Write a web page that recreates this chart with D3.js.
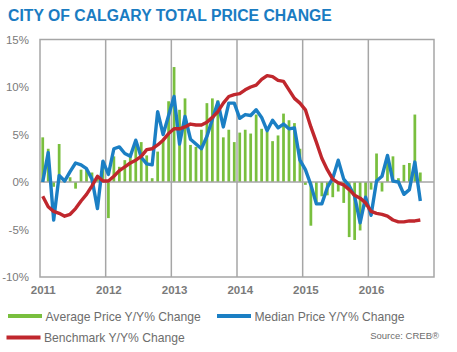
<!DOCTYPE html>
<html>
<head>
<meta charset="utf-8">
<script src="https://cdn.jsdelivr.net/npm/d3@7"></script>
<style>
  body { margin: 0; background: #fff; }
  svg { display: block; font-family: "Liberation Sans", Arial, sans-serif; }
</style>
</head>
<body>
<div id="graphicContainer"></div>
<script>
// chart data, one value per month Jan 2011 .. Oct 2016
var years = [2011, 2012, 2013, 2014, 2015, 2016]
var yTicks = [-10, -5, 0, 5, 10, 15]

var avgChange = [
  4.7, 3.5, -0.5, 4.0, 0.3, 0.5, -0.7, 1.3, 1.4, 1.0, 0.5, 1.8,
  -3.8, 2.7, 1.6, 2.3, 3.0, 3.8, 4.2, 2.8, 0.4, 3.2, 4.5, 8.5,
  12.1, 7.6, 8.8, 3.9, 3.7, 5.5, 8.3, 8.8, 8.6, 4.7, 5.5, 4.2,
  5.2, 5.5, 5.1, 7.1, 5.6, 5.3, 4.3, 4.9, 7.2, 6.5, 6.2, 3.5,
  -0.3, -4.6, -2.1, -1.5, -1.4, -1.6, -1.0, -2.2, -5.8, -6.1, -5.1, -2.6,
  -0.8, 3.0, -1.0, 2.8, 2.7, 0.4, 1.8, 2.0, 7.1, 1.0
]

var medianChange = [
  0.0, 3.1, -4.0, 0.7, 0.1, 1.1, 2.0, 1.8, 1.4, 0.3, -2.8, 2.2,
  0.8, 3.5, 3.7, 3.0, 2.7, 4.4, 2.6, 1.9, 1.8, 7.4, 5.0, 7.0,
  9.0, 4.0, 6.9, 4.5, 4.0, 3.5, 4.8, 6.6, 8.4, 5.8, 8.3, 8.3,
  6.7, 7.1, 7.0, 7.6, 6.8, 5.4, 6.5, 5.7, 6.1, 5.6, 5.7, 2.3,
  1.3, -0.3, -2.3, -2.3, -0.6, 0.4, 2.3, 0.3, -0.4, -1.5, -4.3, -1.6,
  -3.5, 0.1, 0.6, 2.8, 0.1, 0.0, -1.3, -0.8, 2.1, -2.0
]

var benchmarkChange = [
  -1.5, -2.6, -3.1, -3.3, -3.6, -3.4, -2.8, -2.0, -1.3, -0.4, 0.6, 0.1,
  0.1, 0.6, 1.2, 1.6, 2.0, 2.3, 2.7, 3.4, 3.5, 3.9, 4.4, 5.1,
  5.6, 5.6, 5.8, 6.1, 6.0, 6.0, 6.3, 6.8, 7.4, 8.3, 9.0, 9.2,
  9.3, 9.7, 10.0, 10.2, 10.8, 11.2, 11.1, 10.7, 10.6, 9.7, 8.8, 8.3,
  7.6, 5.8, 4.2, 2.5, 1.3, 0.3, -0.1, -0.3, -0.8, -1.4, -1.7, -2.2,
  -3.1, -3.3, -3.4, -3.6, -4.0, -4.2, -4.2, -4.1, -4.1, -4.0
]

var seriesNames = ["Average Price Y/Y% Change", "Median Price Y/Y% Change", "Benchmark Y/Y% Change"]

var green = "#79bf3e"
var blue = "#1b7fc4"
var red = "#c0272d"
var grid = "#a6a6a6"
var labelGrey = "#7a7a7a"

var width = 457
var height = 352
var margin = { top: 39.5, right: 23, bottom: 75, left: 40 }

var svg = d3.select("#graphicContainer").append("svg")
  .attr("width", width)
  .attr("height", height)

// month position as fractional year, centred in the month
var months = avgChange.map(function (d, i) {
  return years[0] + (i + 0.5) / 12
})

var x = d3.scaleLinear()
  .domain([years[0], years[years.length - 1] + 1])
  .range([margin.left, width - margin.right])

var y = d3.scaleLinear()
  .domain([-10, 15])
  .range([height - margin.bottom, margin.top])

var barW = (x(years[0] + 1 / 12) - x(years[0])) * 0.5

// title
var title = svg.append("text")
  .attr("x", 8)
  .attr("y", 20.5)
  .attr("fill", "#1a7cc2")
  .style("font-weight", "bold")
  .style("font-size", "17px")
  .text("CITY OF CALGARY TOTAL PRICE CHANGE")
var tw = title.node().getComputedTextLength()
title.style("font-size", (17 * 324 / tw) + "px")

// frame and gridlines
var features = svg.append("g")

features.selectAll(".vgrid")
  .data(years.slice(1))
  .enter().append("line")
  .attr("class", "vgrid")
  .attr("x1", d => x(d))
  .attr("x2", d => x(d))
  .attr("y1", y(15))
  .attr("y2", y(-10))
  .attr("stroke", grid)
  .attr("stroke-width", 1.5)

features.append("rect")
  .attr("x", x.range()[0])
  .attr("y", y(15))
  .attr("width", x.range()[1] - x.range()[0])
  .attr("height", y(-10) - y(15))
  .attr("fill", "none")
  .attr("stroke", grid)
  .attr("stroke-width", 1.5)

// bars
features.selectAll(".bar")
  .data(avgChange)
  .enter().append("rect")
  .attr("class", "bar")
  .attr("x", (d, i) => x(months[i]) - barW / 2)
  .attr("width", barW)
  .attr("y", d => y(Math.max(0, d)))
  .attr("height", d => Math.abs(y(d) - y(0)))
  .attr("fill", green)

features.append("line")
  .attr("x1", x.range()[0])
  .attr("x2", x.range()[1])
  .attr("y1", y(0))
  .attr("y2", y(0))
  .attr("stroke", grid)
  .attr("stroke-width", 1.5)

var line = d3.line()
  .x((d, i) => x(months[i]))
  .y(d => y(d))

features.append("path")
  .datum(medianChange)
  .attr("d", line)
  .attr("fill", "none")
  .attr("stroke", blue)
  .attr("stroke-width", 3.4)
  .attr("stroke-linejoin", "round")

features.append("path")
  .datum(benchmarkChange)
  .attr("d", line)
  .attr("fill", "none")
  .attr("stroke", red)
  .attr("stroke-width", 3.4)
  .attr("stroke-linejoin", "round")

// axes
var yAxis = d3.axisLeft(y)
  .tickValues(yTicks)
  .tickSize(0)
  .tickPadding(11)
  .tickFormat(d => d + "%")

var yG = svg.append("g")
  .attr("transform", "translate(" + margin.left + ",0)")
  .call(yAxis)
yG.select(".domain").remove()
yG.selectAll("text")
  .attr("fill", labelGrey)
  .style("font-size", "11.5px")
  .style("font-family", "Liberation Sans, Arial, sans-serif")

var xAxis = d3.axisBottom(x)
  .tickValues(years.map(d => d + 0.5 / 12))
  .tickSize(0)
  .tickPadding(9)
  .tickFormat(d => String(Math.floor(d)))

var xG = svg.append("g")
  .attr("transform", "translate(0," + y(-10) + ")")
  .call(xAxis)
xG.select(".domain").remove()
xG.selectAll("text")
  .attr("fill", labelGrey)
  .style("font-size", "11.5px")
  .style("font-weight", "bold")
  .style("font-family", "Liberation Sans, Arial, sans-serif")

// legend
var legendItems = [
  { name: seriesNames[0], colour: green, x: 8, y: 316 },
  { name: seriesNames[1], colour: blue, x: 217, y: 316 },
  { name: seriesNames[2], colour: red, x: 6.5, y: 337.5 }
]

var legend = svg.selectAll(".keyDiv")
  .data(legendItems)
  .enter().append("g")
  .attr("class", "keyDiv")
  .attr("transform", d => "translate(" + d.x + "," + d.y + ")")

legend.append("line")
  .attr("x1", 0)
  .attr("x2", 34)
  .attr("stroke", d => d.colour)
  .attr("stroke-width", 4)

var keyText = legend.append("text")
  .attr("x", 37.5)
  .attr("y", 4.5)
  .attr("fill", "#6d6d6d")
  .style("font-size", "12px")
  .text(d => d.name)

var lw = keyText.nodes()[0].getComputedTextLength()
keyText.style("font-size", (12 * 155.5 / lw) + "px")

svg.append("text")
  .attr("x", 439)
  .attr("y", 338.5)
  .attr("text-anchor", "end")
  .attr("fill", "#6d6d6d")
  .style("font-size", "9.5px")
  .text("Source: CREB®")
</script>
</body>
</html>
